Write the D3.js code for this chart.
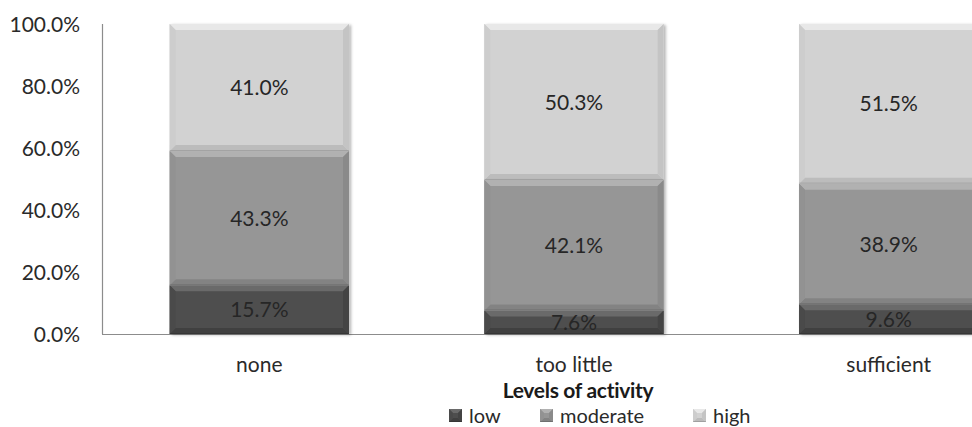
<!DOCTYPE html>
<html>
<head>
<meta charset="utf-8">
<script src="https://cdn.jsdelivr.net/npm/d3@7"></script>
<style>
  html, body { margin: 0; padding: 0; background: #fff; overflow: hidden; }
  svg { display: block; font-family: Lato, "Open Sans", sans-serif; }
</style>
</head>
<body>
<svg id="chart" width="972" height="427"></svg>
<script>
// Share of each activity level within the three groups (percent)
const categories = ["none", "too little", "sufficient"];
const seriesNames = ["low", "moderate", "high"];
const low = [15.7, 7.6, 9.6];
const moderate = [43.3, 42.1, 38.9];
const high = [41.0, 50.3, 51.5];
const yTicks = [0, 20, 40, 60, 80, 100];
const axisTitle = "Levels of activity";

const seriesValues = [low, moderate, high];
const palette = {
  low:      { base: "#4e4e4e", top: "#6a6a6a", bottom: "#404040", left: "#4a4a4a", right: "#444444" },
  moderate: { base: "#969696", top: "#b1b1b1", bottom: "#838383", left: "#929292", right: "#8a8a8a" },
  high:     { base: "#d2d2d2", top: "#e8e8e8", bottom: "#bcbcbc", left: "#cdcdcd", right: "#c4c4c4" }
};

const svg = d3.select("#chart");
const margin = { left: 102, top: 24, bottom: 334 };

const x = d3.scaleBand()
  .domain(categories)
  .range([margin.left, margin.left + 944])
  .paddingInner(0.43)
  .paddingOuter(0.215);

const y = d3.scaleLinear().domain([0, 100]).range([margin.bottom, margin.top]);

// Soft shadow under the columns
const defs = svg.append("defs");
const shadow = defs.append("filter").attr("id", "shadow")
  .attr("x", "-10%").attr("y", "-10%").attr("width", "130%").attr("height", "120%");
shadow.append("feDropShadow")
  .attr("dx", 2).attr("dy", 1).attr("stdDeviation", 1.6)
  .attr("flood-color", "#000").attr("flood-opacity", 0.3);

// Stack the series
const rows = categories.map((c, i) => {
  const r = { category: c };
  seriesNames.forEach((s, k) => { r[s] = seriesValues[k][i]; });
  return r;
});
const stacked = d3.stack().keys(seriesNames)(rows);

// Axes
const yAxis = svg.append("g")
  .attr("transform", `translate(${margin.left},0)`)
  .call(d3.axisLeft(y).tickValues(yTicks).tickSize(0).tickPadding(22)
    .tickFormat(d => d.toFixed(1) + "%"));
yAxis.select(".domain").attr("stroke", "#8c8c8c").attr("stroke-width", 1.2)
  .attr("d", `M0.5,${margin.top}V${margin.bottom}`);
yAxis.selectAll(".tick text")
  .attr("font-family", "Lato, sans-serif")
  .attr("font-size", 21).attr("fill", "#2a2a2a").attr("dy", "0.34em");

const xAxis = svg.append("g")
  .attr("transform", `translate(0,${margin.bottom})`)
  .call(d3.axisBottom(x).tickSize(0).tickPadding(30));
xAxis.select(".domain").attr("stroke", "#8c8c8c").attr("stroke-width", 1.2)
  .attr("d", `M${margin.left},0.5H1100`);
xAxis.selectAll(".tick text")
  .attr("font-family", "Lato, sans-serif")
  .attr("font-size", 21).attr("fill", "#2a2a2a").attr("dy", "0.4em");

// Bevelled column segment
function bevel(g, x0, y0, w, h, col, size) {
  const b = Math.min(size, h / 2, w / 2);
  const x1 = x0 + w, y1 = y0 + h;
  g.append("rect").attr("x", x0).attr("y", y0).attr("width", w).attr("height", h).attr("fill", col.base);
  g.append("polygon").attr("fill", col.top)
    .attr("points", [[x0, y0], [x1, y0], [x1 - b, y0 + b], [x0 + b, y0 + b]].join(" "));
  g.append("polygon").attr("fill", col.bottom)
    .attr("points", [[x0, y1], [x1, y1], [x1 - b, y1 - b], [x0 + b, y1 - b]].join(" "));
  g.append("polygon").attr("fill", col.left)
    .attr("points", [[x0, y0], [x0 + b, y0 + b], [x0 + b, y1 - b], [x0, y1]].join(" "));
  g.append("polygon").attr("fill", col.right)
    .attr("points", [[x1, y0], [x1 - b, y0 + b], [x1 - b, y1 - b], [x1, y1]].join(" "));
  g.append("line").attr("x1", x0).attr("x2", x1).attr("y1", y1 - 0.5).attr("y2", y1 - 0.5)
    .attr("stroke", "#000").attr("stroke-opacity", 0.15);
}

const bars = svg.append("g");
categories.forEach((c, i) => {
  bars.append("rect")
    .attr("x", x(c)).attr("y", y(100)).attr("width", x.bandwidth()).attr("height", y(0) - y(100))
    .attr("fill", "#fff").attr("filter", "url(#shadow)");
});
stacked.forEach(layer => {
  const col = palette[layer.key];
  layer.forEach(d => {
    const g = bars.append("g");
    bevel(g, x(d.data.category), y(d[1]), x.bandwidth(), y(d[0]) - y(d[1]), col, 6);
  });
});

// Value labels at segment centres
const labels = svg.append("g");
stacked.forEach(layer => {
  layer.forEach(d => {
    const v = d.data[layer.key];
    labels.append("text")
      .attr("x", x(d.data.category) + x.bandwidth() / 2)
      .attr("y", y((d[0] + d[1]) / 2))
      .attr("dy", "0.36em")
      .attr("text-anchor", "middle")
      .attr("font-size", 21)
      .attr("fill", "#262626")
      .text(v.toFixed(1) + "%");
  });
});

// Axis title
svg.append("text")
  .attr("x", 578).attr("y", 390).attr("dy", "0.36em")
  .attr("text-anchor", "middle")
  .attr("font-size", 21).attr("font-weight", "bold").attr("fill", "#1a1a1a")
  .attr("letter-spacing", "-0.3")
  .text(axisTitle);

// Legend
const legendX = [449, 540, 693];
const legend = svg.append("g");
seriesNames.forEach((s, k) => {
  const g = legend.append("g").attr("transform", `translate(${legendX[k]},409)`);
  bevel(g, 0, 0, 13, 13, palette[s], 4);
  g.append("text").attr("x", 20).attr("y", 6.5).attr("dy", "0.36em")
    .attr("font-size", 20).attr("fill", "#2a2a2a").text(s);
});
</script>
</body>
</html>
